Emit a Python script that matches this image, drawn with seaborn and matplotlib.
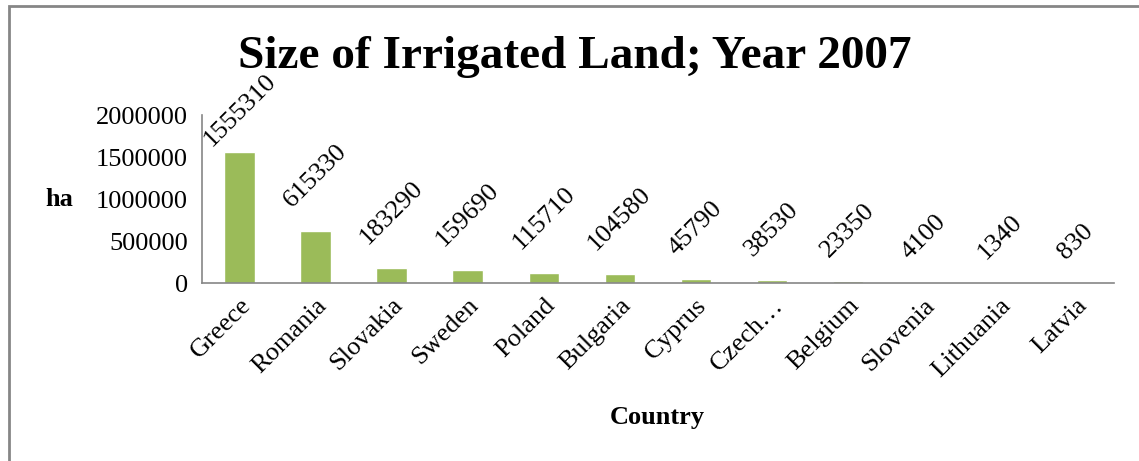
import numpy as np
import seaborn as sns
import matplotlib.pyplot as plt
from matplotlib.patches import Rectangle

sns.set_theme(style="white")
plt.rcParams['font.family'] = ['Liberation Serif', 'DejaVu Serif']
plt.rcParams['text.color'] = 'black'
plt.rcParams['axes.labelcolor'] = 'black'
plt.rcParams['xtick.color'] = 'black'
plt.rcParams['ytick.color'] = 'black'

# data
countries = ['Greece', 'Romania', 'Slovakia', 'Sweden', 'Poland', 'Bulgaria',
             'Cyprus', 'Czech…', 'Belgium', 'Slovenia', 'Lithuania', 'Latvia']
irrigated_ha = [1555310, 615330, 183290, 159690, 115710, 104580,
                45790, 38530, 23350, 4100, 1340, 830]
y_ticks = [0, 500000, 1000000, 1500000, 2000000]

BAR_COLOR = '#9BBB59'
AXIS_COLOR = '#868686'
Y_MAX = 2000000

fig = plt.figure(figsize=(11.39, 4.61), dpi=100)
ax = fig.add_axes([0.177, 0.386, 0.801, 0.3645])

sns.barplot(x=countries, y=irrigated_ha, color=BAR_COLOR, width=0.4,
            saturation=1, ax=ax)

ax.set_ylim(0, Y_MAX)
ax.set_xlim(-0.5, len(countries) - 0.5)
ax.set_yticks(y_ticks)
ax.set_yticklabels([str(v) for v in y_ticks], fontsize=19)

# category ticks sit between bars, labels at bar centres
ax.set_xticks(np.arange(len(countries)))
ax.set_xticklabels(countries, fontsize=19, rotation=45, ha='right',
                   rotation_mode='anchor')
ax.set_xticks(np.arange(len(countries) + 1) - 0.5, minor=True)
ax.tick_params(axis='x', which='major', length=0, pad=8)
ax.tick_params(axis='x', which='minor', length=6, color=AXIS_COLOR, width=1.2,
               direction='out')
ax.tick_params(axis='y', length=6, color=AXIS_COLOR, width=1.2,
               direction='out', pad=4)
for side in ['top', 'right']:
    ax.spines[side].set_visible(False)
for side in ['left', 'bottom']:
    ax.spines[side].set_color(AXIS_COLOR)
    ax.spines[side].set_linewidth(1.2)

# value labels, rotated like the Excel original (tall bar label squeezed down)
for i, v in enumerate(irrigated_ha):
    off = 1.5 if v / Y_MAX > 0.7 else 14
    ax.annotate(str(v), (i, v), xytext=(0, off), textcoords='offset points',
                rotation=45, ha='center', va='bottom', fontsize=19)

ax.set_ylabel('ha', fontsize=19, fontweight='bold', rotation=0,
              labelpad=26, va='center')
ax.set_xlabel('Country', fontsize=19, fontweight='bold', labelpad=18)
fig.text(0.505, 0.876, 'Size of Irrigated Land; Year 2007', ha='center',
         va='center', fontsize=34, fontweight='bold')

# chart area border (right and bottom edges fall outside the picture)
fig.patches.append(Rectangle((9 / 1139, -0.1), 1.1, 1.1 - 6 / 461,
                             transform=fig.transFigure, fill=False,
                             edgecolor=AXIS_COLOR, linewidth=2))

fig.savefig('out.png', dpi=100)
